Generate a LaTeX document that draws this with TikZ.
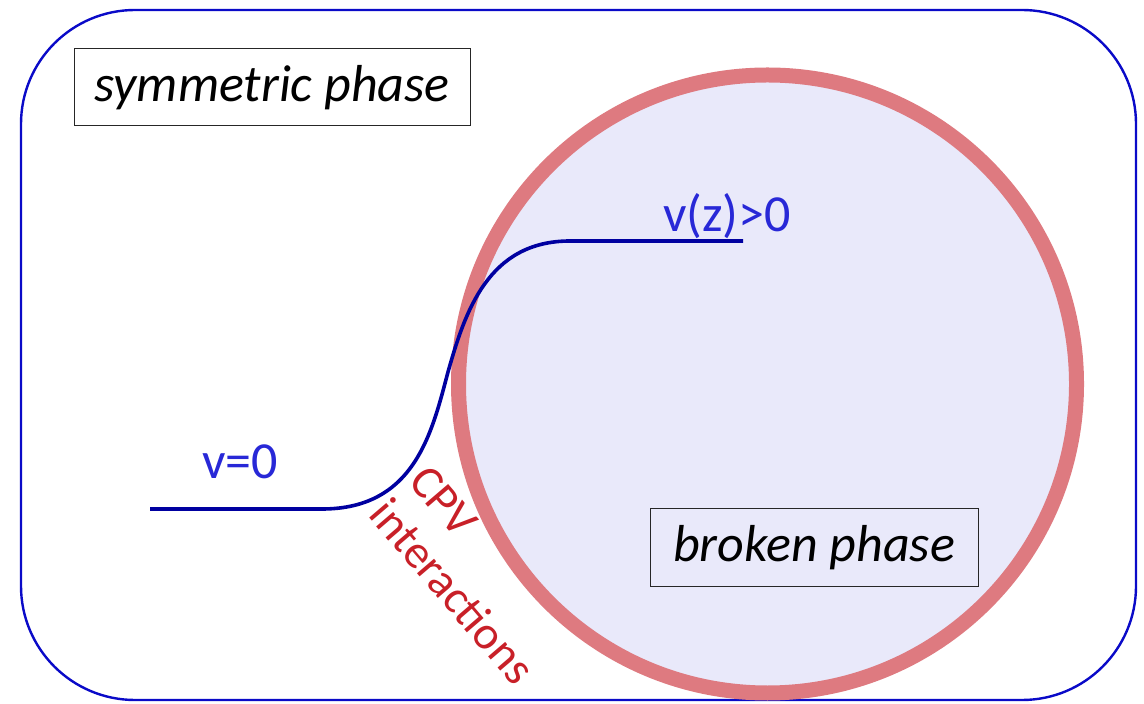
\documentclass[tikz,border=0pt]{standalone}
\usepackage{fontspec}
\setmainfont{Carlito}
\definecolor{frameblue}{RGB}{10,10,200}
\definecolor{curvenavy}{RGB}{0,0,160}
\definecolor{labelblue}{RGB}{40,40,215}
\definecolor{bubblefill}{RGB}{233,233,250}
\definecolor{bubbleedge}{RGB}{222,122,128}
\definecolor{cpvred}{RGB}{200,32,40}
\begin{document}
\begin{tikzpicture}[x=0.5pt,y=-0.5pt,
  phasebox/.style={draw=black!85,line width=0.5pt,fill=white,inner sep=0pt,font=\fontsize{26}{30}\selectfont\itshape},
  vlabel/.style={text=labelblue,font=\fontsize{26}{30}\selectfont},
  cpv/.style={text=cpvred,font=\fontsize{23.5}{26}\selectfont,align=left,rotate=-49.5}]
\useasboundingbox (0,0) rectangle (1144,704);
\draw[frameblue,line width=1.2pt,rounded corners=57pt] (21,10) rectangle (1136,700);
\node[circle,fill=bubblefill,draw=bubbleedge,line width=7.5pt,minimum size=618*0.5pt,inner sep=0pt] (bubble) at (767.5,384) {};
\node[phasebox,minimum width=396*0.5pt,minimum height=77*0.5pt] (sym) at (272,87.5) {symmetric phase};
\node[phasebox,fill=bubblefill,minimum width=328*0.5pt,minimum height=77*0.5pt] (brk) at (814,547.5) {broken phase};
\coordinate (a) at (150,509);
\coordinate (b) at (322,509);
\coordinate (m) at (448,372);
\coordinate (c) at (570,241);
\coordinate (d) at (743,241);
\draw[curvenavy,line width=1.8pt] (a) -- (b) .. controls (415,509) and (432,432) .. (m) .. controls (465,312) and (488,241) .. (c) -- (d);
\node[vlabel] (v0) at (240,462) {v=0};
\node[vlabel] (vz) at (727,216) {v(z)>0};
\node[cpv] (cpvl) at (472,575) {CPV\\interactions};
\end{tikzpicture}
\end{document}
